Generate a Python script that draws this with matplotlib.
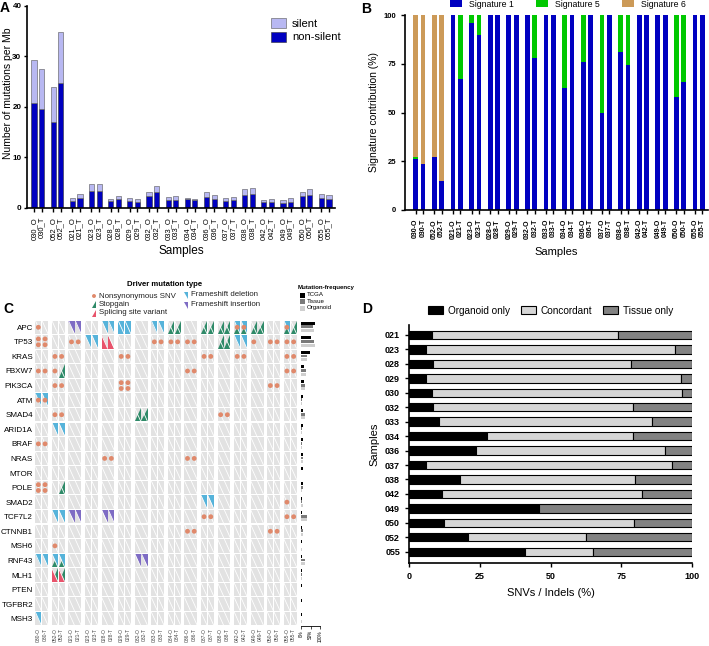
import numpy as np
import matplotlib
matplotlib.use("Agg")
import matplotlib.pyplot as plt
from matplotlib.patches import Rectangle, Polygon
from matplotlib.collections import PatchCollection, LineCollection

plt.rcParams.update({
    "font.family": ["Liberation Sans", "DejaVu Sans"],
    "axes.linewidth": 1.2, "xtick.major.width": 1.0, "ytick.major.width": 1.0,
    "xtick.major.size": 3, "ytick.major.size": 3,
})
W, H = 709, 646

# ---------------- panel A : mutation burden ----------------
SAMPLES_A = ["030_O", "030_T", "052_O", "052_T", "021_O", "021_T", "023_O", "023_T",
             "028_O", "028_T", "029_O", "029_T", "032_O", "032_T", "033_O", "033_T",
             "034_O", "034_T", "036_O", "036_T", "037_O", "037_T", "038_O", "038_T",
             "042_O", "042_T", "049_O", "049_T", "050_O", "050_T", "055_O", "055_T"]
TOTAL_A = [29.3, 27.6, 24.0, 34.9, 1.9, 2.8, 4.7, 4.7, 1.7, 2.4, 2.0, 1.8, 3.2, 4.3, 2.2, 2.3,
           2.0, 1.8, 3.1, 2.5, 2.0, 2.1, 3.7, 4.0, 1.6, 1.8, 1.5, 1.9, 3.1, 3.8, 2.7, 2.5]
NONSILENT_A = [20.8, 19.6, 17.0, 24.7, 1.3, 2.0, 3.3, 3.3, 1.3, 1.7, 1.3, 1.2, 2.3, 3.2, 1.5, 1.5,
               1.7, 1.5, 2.2, 1.7, 1.4, 1.5, 2.6, 2.7, 1.1, 1.2, 1.0, 1.2, 2.3, 2.6, 2.0, 1.8]

# ---------------- panel B : signatures ----------------
SAMPLES_B = [s.replace("_", "-") for s in SAMPLES_A]
SIG1 = [26, 23.5, 27, 15, 100, 67, 96, 90, 100, 100, 100, 100, 100, 78, 100, 100,
        62.5, 100, 76, 100, 50, 100, 81, 74.5, 100, 100, 100, 100, 58, 65.5, 100, 100]
SIG5 = [1, 0, 0, 0, 0, 33, 4, 10, 0, 0, 0, 0, 0, 22, 0, 0,
        37.5, 0, 24, 0, 50, 0, 19, 25.5, 0, 0, 0, 0, 42, 34.5, 0, 0]
SIG6 = [73, 76.5, 73, 85, 0, 0, 0, 0, 0, 0, 0, 0, 0, 0, 0, 0,
        0, 0, 0, 0, 0, 0, 0, 0, 0, 0, 0, 0, 0, 0, 0, 0]

# ---------------- panel C : driver oncoprint ----------------
SAMPLES_C = SAMPLES_B
GENES = ["APC", "TP53", "KRAS", "FBXW7", "PIK3CA", "ATM", "SMAD4", "ARID1A", "BRAF", "NRAS",
         "MTOR", "POLE", "SMAD2", "TCF7L2", "CTNNB1", "MSH6", "RNF43", "MLH1", "PTEN",
         "TGFBR2", "MSH3"]
SNV = [("APC", "030-O", 1), ("APC", "042-O", 1), ("APC", "042-T", 1), ("APC", "055-O", 1),
       ("TP53", "030-O", 2), ("TP53", "030-T", 2), ("TP53", "021-O", 1), ("TP53", "021-T", 1),
       ("TP53", "033-O", 1), ("TP53", "033-T", 1), ("TP53", "034-O", 1), ("TP53", "034-T", 1),
       ("TP53", "036-O", 1), ("TP53", "036-T", 1), ("TP53", "049-O", 1), ("TP53", "050-O", 1),
       ("TP53", "050-T", 1), ("TP53", "055-O", 1), ("TP53", "055-T", 1),
       ("KRAS", "052-O", 1), ("KRAS", "052-T", 1), ("KRAS", "029-O", 1), ("KRAS", "029-T", 1),
       ("KRAS", "037-O", 1), ("KRAS", "037-T", 1), ("KRAS", "042-O", 1), ("KRAS", "042-T", 1),
       ("KRAS", "055-O", 1), ("KRAS", "055-T", 1),
       ("FBXW7", "030-O", 1), ("FBXW7", "030-T", 1), ("FBXW7", "052-O", 1),
       ("FBXW7", "036-O", 1), ("FBXW7", "036-T", 1), ("FBXW7", "055-O", 1), ("FBXW7", "055-T", 1),
       ("PIK3CA", "052-O", 1), ("PIK3CA", "052-T", 1), ("PIK3CA", "029-O", 2),
       ("PIK3CA", "029-T", 2), ("PIK3CA", "050-O", 1), ("PIK3CA", "050-T", 1),
       ("ATM", "030-O", 1), ("ATM", "030-T", 1),
       ("SMAD4", "052-O", 1), ("SMAD4", "052-T", 1), ("SMAD4", "038-O", 1), ("SMAD4", "038-T", 1),
       ("BRAF", "030-O", 1), ("BRAF", "030-T", 1),
       ("NRAS", "028-O", 1), ("NRAS", "028-T", 1), ("NRAS", "036-O", 1), ("NRAS", "036-T", 1),
       ("POLE", "030-O", 2), ("POLE", "030-T", 2), ("SMAD2", "055-O", 1),
       ("TCF7L2", "037-O", 1), ("TCF7L2", "037-T", 1), ("TCF7L2", "055-O", 1), ("TCF7L2", "055-T", 1),
       ("CTNNB1", "036-O", 1), ("CTNNB1", "036-T", 1), ("CTNNB1", "050-O", 1), ("CTNNB1", "050-T", 1),
       ("MSH6", "052-O", 1)]
STOPGAIN = [("APC", "034-O"), ("APC", "034-T"), ("APC", "037-O"), ("APC", "037-T"),
            ("APC", "038-O"), ("APC", "038-T"), ("APC", "042-O"), ("APC", "042-T"),
            ("APC", "049-O"), ("APC", "049-T"), ("APC", "055-O"), ("APC", "055-T"),
            ("TP53", "038-O"), ("TP53", "038-T"), ("FBXW7", "052-T"), ("SMAD4", "032-O"),
            ("SMAD4", "032-T"), ("POLE", "052-T"), ("RNF43", "052-O"), ("RNF43", "052-T"),
            ("MLH1", "052-O"), ("MLH1", "052-T")]
FS_DEL = [("APC", "028-O", 1), ("APC", "028-T", 1), ("APC", "029-O", 2), ("APC", "029-T", 2),
          ("APC", "033-O", 1), ("APC", "033-T", 1), ("APC", "042-O", 1), ("APC", "042-T", 1),
          ("APC", "055-O", 1), ("TP53", "023-O", 1), ("TP53", "023-T", 1), ("TP53", "042-O", 1),
          ("TP53", "042-T", 1), ("ATM", "030-O", 1), ("ATM", "030-T", 1), ("ARID1A", "052-O", 1),
          ("ARID1A", "052-T", 1), ("SMAD2", "037-O", 1), ("SMAD2", "037-T", 1),
          ("TCF7L2", "052-O", 1), ("TCF7L2", "052-T", 1), ("RNF43", "030-O", 1),
          ("RNF43", "030-T", 1), ("RNF43", "052-O", 1), ("RNF43", "052-T", 1), ("MSH3", "030-O", 1)]
FS_INS = [("APC", "021-O"), ("APC", "021-T"), ("TCF7L2", "021-O"), ("TCF7L2", "021-T"),
          ("TCF7L2", "028-O"), ("TCF7L2", "028-T"), ("RNF43", "032-O"), ("RNF43", "032-T")]
SPLICE = [("TP53", "028-O"), ("TP53", "028-T"), ("MLH1", "052-O"), ("MLH1", "052-T")]
FREQ_TCGA = [0.75, 0.55, 0.45, 0.15, 0.17, 0.12, 0.13, 0.10, 0.10, 0.10, 0.08,
             0.08, 0.07, 0.06, 0.06, 0.06, 0.06, 0.05, 0.05, 0.05, 0.05]
FREQ_TISSUE = [0.62, 0.69, 0.31, 0.25, 0.19, 0.06, 0.19, 0.06, 0.06, 0.12, 0.0,
               0.12, 0.06, 0.31, 0.12, 0.0, 0.19, 0.06, 0.0, 0.0, 0.0]
FREQ_ORGANOID = [0.69, 0.75, 0.31, 0.25, 0.19, 0.06, 0.19, 0.06, 0.06, 0.12, 0.0,
                 0.06, 0.12, 0.31, 0.12, 0.06, 0.19, 0.06, 0.0, 0.0, 0.06]

# ---------------- panel D : concordance ----------------
PATIENTS_D = ["021", "023", "028", "029", "030", "032", "033", "034", "036", "037",
              "038", "042", "049", "050", "052", "055"]
ORG_ONLY = [8, 6, 8.5, 6, 8, 8.5, 10.5, 27.5, 23.5, 6, 18, 11.5, 46, 12.5, 21, 41]
CONCORDANT = [66, 88, 70, 90, 88.5, 70.5, 75.5, 51.5, 67, 87, 62, 71, 0, 67, 41.5, 24]
TISSUE_ONLY = [26, 6, 21.5, 4, 3.5, 21, 14, 21, 9.5, 7, 20, 17.5, 54, 20.5, 37.5, 35]

NAVY = "#0000c0"; LAVENDER = "#b8b8f2"; GREEN5 = "#00c800"; TAN6 = "#cc9a58"
CELL = "#e2e2e2"; C_SNV = "#e0896b"; C_STOP = "#2e8a68"; C_DEL = "#56b3da"
C_INS = "#7e6cc4"; C_SPL = "#e8536b"


def box(x0, y0, x1, y1):
    return [x0 / W, 1 - y1 / H, (x1 - x0) / W, (y1 - y0) / H]


def pair_x(n, period, within):
    i = np.arange(n)
    return (i // 2) * period + (i % 2) * within


def style(ax):
    for s in ("top", "right"):
        ax.spines[s].set_visible(False)


def panel_a(fig):
    ax = fig.add_axes(box(27, 6, 335, 208))
    x = pair_x(len(SAMPLES_A), 3.0, 1.2)
    ns = np.array(NONSILENT_A)
    ax.bar(x, ns, 0.8, color=NAVY, edgecolor="#333333", lw=0.4, label="non-silent")
    ax.bar(x, np.array(TOTAL_A) - ns, 0.8, bottom=ns, color=LAVENDER, edgecolor="#555555",
           lw=0.4, label="silent")
    ax.set_xlim(-1.1, 47.14); ax.set_ylim(0, 40)
    ax.set_yticks([0, 10, 20, 30, 40])
    ax.set_xticks(x); ax.set_xticklabels(SAMPLES_A, rotation=90, fontsize=5.5)
    ax.tick_params(axis="y", labelsize=5.8, pad=1.5, length=2.5)
    for t in ax.get_yticklabels():
        t.set_fontweight("bold")
    ax.set_ylabel("Number of mutations per Mb", fontsize=7.5)
    ax.yaxis.set_label_coords(-0.047, 0.57)
    ax.set_xlabel("Samples", fontsize=8.5, labelpad=4)
    style(ax)
    h, l = ax.get_legend_handles_labels()
    ax.legend(h[::-1], l[::-1], loc="upper left", bbox_to_anchor=(0.76, 0.99), frameon=False,
              fontsize=8, handlelength=1.3, handleheight=1.0, labelspacing=0.25, handletextpad=0.6)


def panel_b(fig):
    ax = fig.add_axes(box(405, 15, 708, 210))
    x = pair_x(len(SAMPLES_B), 2.66, 1.05)
    s1, s5, s6 = np.array(SIG1), np.array(SIG5), np.array(SIG6)
    ax.bar(x, s1, 0.68, color=NAVY, label="Signature 1")
    ax.bar(x, s5, 0.68, bottom=s1, color=GREEN5, label="Signature 5")
    ax.bar(x, s6, 0.68, bottom=s1 + s5, color=TAN6, label="Signature 6")
    ax.set_xlim(-1.53, 41.75); ax.set_ylim(0, 100)
    ax.set_yticks([0, 25, 50, 75, 100])
    ax.set_xticks(x); ax.set_xticklabels(SAMPLES_B, rotation=90, fontsize=5, fontweight="bold")
    ax.tick_params(axis="y", labelsize=5.5)
    for t in ax.get_yticklabels():
        t.set_fontweight("bold")
    ax.set_ylabel("Signature contribution (%)", fontsize=7.5, labelpad=3)
    ax.set_xlabel("Samples", fontsize=8, labelpad=6)
    style(ax)
    ax.legend(loc="center left", bbox_to_anchor=(0.15, 1.055), ncol=3, frameon=False, fontsize=6.3,
              handlelength=1.3, handleheight=0.9, columnspacing=2.6, handletextpad=0.8,
              borderaxespad=0, borderpad=0)


def panel_c(fig, ov):
    ax = fig.add_axes(box(35, 320, 297, 626))
    n = len(SAMPLES_C)
    cx = pair_x(n, 2.47, 1.0)
    ci = {s: i for i, s in enumerate(SAMPLES_C)}
    gi = {g: j for j, g in enumerate(GENES)}
    hw, top, bot = 0.45, 0.04, 0.96

    cells, diag = [], []
    for j in range(len(GENES)):
        for i in range(n):
            cells.append(Rectangle((cx[i] - hw, j + top), 2 * hw, bot - top))
            diag.append([(cx[i] - hw, j + top), (cx[i] + hw, j + bot)])
    ax.add_collection(PatchCollection(cells, facecolor=CELL, edgecolor="none"))
    ax.add_collection(LineCollection(diag, colors="white", linewidths=0.6))

    def tri(g, s, kind):
        x, j = cx[ci[s]], gi[g]
        xl, xr, yt, yb = x - hw, x + hw, j + top, j + bot
        return {"ur": [(xl, yt), (xr, yt), (xr, yb)],
                "lr": [(xl, yb), (xr, yb), (xr, yt)],
                "ll": [(xl, yt), (xl, yb), (xr, yb)]}[kind]

    for g, s in STOPGAIN:
        ax.add_patch(Polygon(tri(g, s, "lr"), fc=C_STOP, ec="none"))
    for g, s in SPLICE:
        ax.add_patch(Polygon(tri(g, s, "ll"), fc=C_SPL, ec="none"))
    for g, s, k in FS_DEL:
        ax.add_patch(Polygon(tri(g, s, "ur"), fc=C_DEL, ec="none"))
        if k > 1:
            ax.add_patch(Polygon(tri(g, s, "ll"), fc=C_DEL, ec="none"))
    for g, s in FS_INS:
        ax.add_patch(Polygon(tri(g, s, "ur"), fc=C_INS, ec="none"))
    px, py = [], []
    for g, s, k in SNV:
        offs = [0.5] if k == 1 else [0.3, 0.7]
        for o in offs:
            px.append(cx[ci[s]]); py.append(gi[g] + o)
    ax.scatter(px, py, s=12, color=C_SNV, edgecolors="none", zorder=5)

    ax.set_xlim(-0.5, cx[-1] + 0.5); ax.set_ylim(len(GENES), 0)
    ax.set_yticks(np.arange(len(GENES)) + 0.5); ax.set_yticklabels(GENES, fontsize=5.8)
    ax.set_xticks(cx); ax.set_xticklabels(SAMPLES_C, rotation=90, fontsize=3.6, color="#444444")
    ax.tick_params(length=0, pad=1.5)
    for sp in ax.spines.values():
        sp.set_visible(False)

    # mutation frequency side bars
    af = fig.add_axes(box(301, 320, 320, 626))
    r = np.arange(len(GENES))
    kw = dict(height=0.2, clip_on=False)
    af.barh(r + 0.22, FREQ_TCGA, color="black", **kw)
    af.barh(r + 0.47, FREQ_TISSUE, color="#7a7a7a", **kw)
    af.barh(r + 0.72, FREQ_ORGANOID, color="#cfcfcf", **kw)
    af.set_ylim(len(GENES), 0); af.set_xlim(0, 1)
    af.set_yticks([])
    af.set_xticks([0, 0.5, 1]); af.set_xticklabels(["0%", "50%", "100%"], rotation=90, fontsize=3.3)
    af.tick_params(axis="x", length=2, width=0.5, pad=1)
    for s in ("top", "right", "left"):
        af.spines[s].set_visible(False)
    af.spines["bottom"].set_linewidth(0.6)

    # legend for mutation types (overlay, pixel coordinates)
    ov.text(165, 284, "Driver mutation type", fontsize=5.6, fontweight="bold", ha="center", va="center")
    items = [(94, 296, "dot", C_SNV, "Nonsynonymous SNV"),
             (94, 304, "lr", C_STOP, "Stopgain"),
             (94, 313, "lr", C_SPL, "Splicing site variant"),
             (186, 295, "ur", C_DEL, "Frameshift deletion"),
             (186, 305, "ur", C_INS, "Frameshift insertion")]
    for x0, y0, kind, col, lab in items:
        if kind == "dot":
            ov.scatter([x0], [y0], s=8, color=col, edgecolors="none")
        elif kind == "lr":
            ov.add_patch(Polygon([(x0 - 2, y0 + 3.5), (x0 + 2, y0 + 3.5), (x0 + 2, y0 - 3.5)], fc=col, ec="none"))
        else:
            ov.add_patch(Polygon([(x0 - 2, y0 - 3.5), (x0 + 2, y0 - 3.5), (x0 + 2, y0 + 3.5)], fc=col, ec="none"))
        ov.text(x0 + 5, y0, lab, fontsize=5.7, va="center", ha="left", color="#222222")
    ov.text(298, 287, "Mutation-frequency", fontsize=4.4, fontweight="bold", va="center")
    for y0, col, lab in [(295, "black", "TCGA"), (301.5, "#7a7a7a", "Tissue"), (308, "#cfcfcf", "Organoid")]:
        ov.add_patch(Rectangle((299.5, y0 - 2.5), 5, 5, fc=col, ec="none"))
        ov.text(307, y0, lab, fontsize=4.4, va="center")


def panel_d(fig):
    ax = fig.add_axes(box(409, 325, 692, 563))
    y = np.arange(len(PATIENTS_D))
    o, c, t = np.array(ORG_ONLY), np.array(CONCORDANT), np.array(TISSUE_ONLY)
    kw = dict(height=0.58, edgecolor="black", lw=0.8)
    ax.barh(y, o, color="black", label="Organoid only", **kw)
    ax.barh(y, c, left=o, color="#d6d6d6", label="Concordant", **kw)
    ax.barh(y, t, left=o + c, color="#828282", label="Tissue only", **kw)
    ax.set_ylim(len(PATIENTS_D) - 1 + 0.78, -0.69); ax.set_xlim(0, 100)
    ax.set_yticks(y); ax.set_yticklabels(PATIENTS_D, fontsize=6.5, fontweight="bold")
    ax.set_xticks([0, 25, 50, 75, 100])
    ax.tick_params(axis="x", labelsize=6.5)
    for tl in ax.get_xticklabels():
        tl.set_fontweight("bold")
    ax.set_xlabel("SNVs / Indels (%)", fontsize=8, labelpad=5)
    ax.set_ylabel("Samples", fontsize=8, labelpad=4)
    style(ax)
    ax.legend(loc="center", bbox_to_anchor=(0.5, 1.06), ncol=3, frameon=False, fontsize=7.2,
              handlelength=1.5, handleheight=0.8, columnspacing=1.1, handletextpad=0.5)


fig = plt.figure(figsize=(W / 100, H / 100), dpi=100)
ov = fig.add_axes([0, 0, 1, 1], zorder=-1)
ov.set_xlim(0, W); ov.set_ylim(H, 0); ov.axis("off")
panel_a(fig)
panel_b(fig)
panel_c(fig, ov)
panel_d(fig)
for x0, y0, lab in [(0, 8, "A"), (361, 9, "B"), (3, 309, "C"), (362, 309, "D")]:
    ov.text(x0, y0, lab, fontsize=10, fontweight="bold", va="center", ha="left")
fig.savefig("out.png", dpi=100)
